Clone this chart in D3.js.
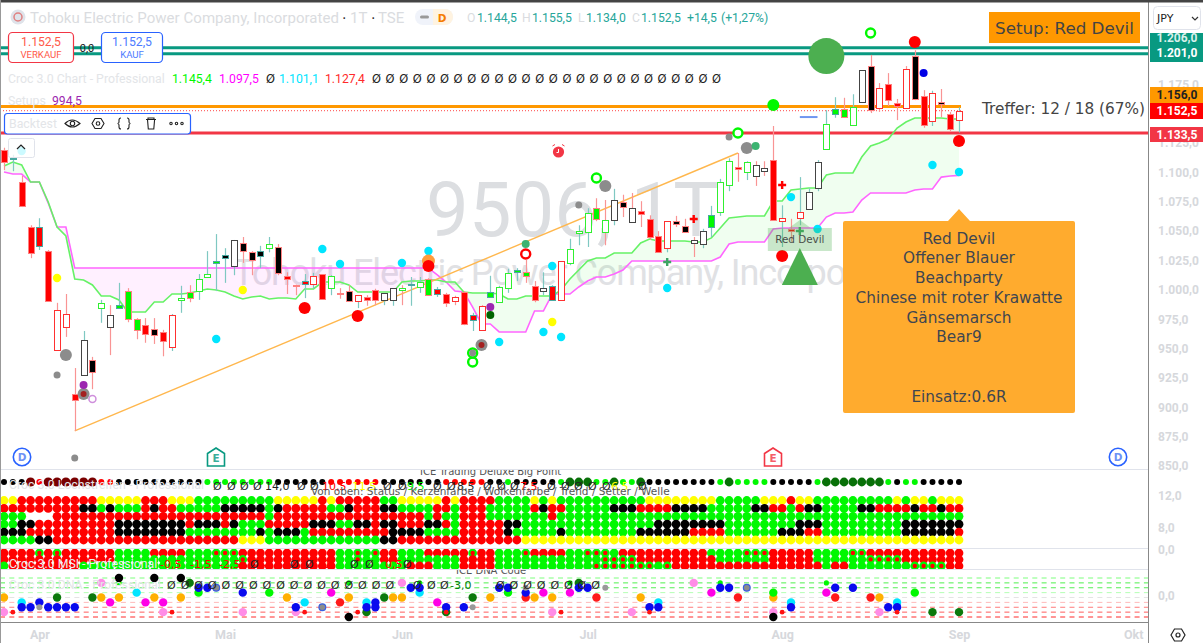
<!DOCTYPE html>
<html><head><meta charset="utf-8">
<script src="https://cdn.jsdelivr.net/npm/d3@7/dist/d3.min.js"></script>
<style>html,body{margin:0;padding:0;background:#fff;overflow:hidden}svg{display:block}</style>
</head><body><svg id="c" width="1203" height="643"></svg>
<script>
const opens=[1119,1111,1092,1053.5,1037.5,1033,983,979.5,911.5,927.5,940.5,984.5,978.5,984.5,999,975,970,966.5,964,951.5,991.5,998,999,1011,1023,1027,1020.5,1040,1032,1029,1035.5,1036.5,1012,1004,1005,1005,1013.5,1001.5,997.5,999,990.5,994,1000,991.5,991.5,1001.5,1004,1002.5,1009.5,996.5,996.5,994,998,974.5,986.5,994,989.5,1001.5,1015,1015,1003.5,999,991.5,991.5,1023.5,1048.5,1049.5,1069.5,1059.5,1059.5,1075,1069.5,1067,1060.5,1046,1035.5,1058.5,1054.5,1042.5,1039,1053.5,1066.5,1089.5,1104.5,1100.5,1106.5,1103.5,1110.5,1058.5,1052,1061,1069,1086.5,1120,1149.5,1154,1140.5,1160,1190.5,1172,1175,1159,1188,1199,1165,1143.5,1160,1149.5,1144.5];
const highs=[1121,1115,1097,1055,1061,1034,989,996.5,933.5,965,943,991.5,987,1006,1001.5,976,976,976,966,979.5,1003.5,1004,1013.5,1033,1047.5,1035.5,1042.5,1045,1033,1037.5,1045,1039,1015,1004.5,1013.5,1014.5,1013.5,1012.5,1001.5,1004,995.5,995.5,1001,997.5,1001.5,1004,1011,1011,1010,1002.5,997.5,995,999,980.5,987,1012,1003.5,1018,1018.5,1025.5,1007.5,1015,1004,1024.5,1043.5,1055,1069.5,1078,1076.5,1086,1081,1082.5,1075.5,1063.5,1050,1058.5,1063,1060.5,1045,1052,1071.5,1094.5,1112,1116.5,1109.5,1109.5,1109.5,1139.5,1072,1060.5,1096,1086.5,1110.5,1153,1164,1163.5,1166.5,1187,1200,1176,1184.5,1162.5,1190.5,1204,1170,1169.5,1171,1151.5,1155.5];
const lows=[1102,1101,1070.5,1027,1034,990.5,949,960,880,927.5,915.5,972,944.5,984.5,972.5,958,955,954,943.5,948,980.5,989.5,991.5,1011,999,1006,1012.5,1023,1012.5,1018.5,1032,1012.5,996.5,995.5,993,1001,992.5,995.5,992.5,990.5,984.5,986.5,987,987,986.5,987,986.5,997.5,995,994,985.5,987,970,965,965,994,989,997.5,1007.5,1006,989.5,995.5,991.5,991.5,1021,1038,1036.5,1058.5,1038,1055,1062,1058,1053.5,1042.5,1032,1032,1053.5,1049.5,1028,1035.5,1045,1063,1084,1092,1093.5,1088.5,1097,1059.5,1036.5,1041,1055,1069,1084,1120,1146.5,1146.5,1140.5,1160,1150.5,1151.5,1156.5,1144.5,1155,1161.5,1138,1139.5,1147,1134.5,1134];
const closes=[1109,1112,1072,1031.5,1053.5,990.5,949,968.5,906.5,957.5,930,989,968.5,987,975,966,962.5,961,956.5,978.5,993,993,1009.5,1013.5,1024.5,1029.5,1042.5,1033,1025.5,1033,1039,1014.5,1009.5,1003.5,1007.5,1012,992.5,1012,996.5,990.5,995.5,991.5,991.5,997.5,1001.5,1000,1005,1006.5,995.5,1001,989,990.5,971,978.5,966,998,1002.5,1014.5,1017,1012,991.5,1001.5,1003.5,1024.5,1035,1050,1065.5,1060.5,1049.5,1076.5,1070.5,1058,1064.5,1045,1032,1058.5,1056,1049.5,1040,1050,1063.5,1092,1109.5,1103,1109,1097,1101,1059.5,1061,1050,1066.5,1083.5,1109,1141,1154,1147,1155.5,1187,1153,1155,1161.5,1156.5,1155,1162.5,1140.5,1167.5,1158,1137,1152.5];
const bodies="R G R R R R wr wr R wk K wg wk G G G R K R wr wg G wg wg G K wk K K K wg K R R R wr R wg R K wr R R wk wk wg G wg G R R wr R R wr G wg wg G G R wk R wr wg wg wg G wg wk K wk R R R wr K K wk wk G wg wg R wg wk wk R wr R wr wk wk wg G G wg wk K wr R R wr K R wr K R wr".split(" ");
const cloudGreen=[1105.4,1108.8,1106.3,1091.8,1091.8,1074.8,1053.5,1045.9,1009.3,1008.4,1004.2,994.8,994.8,991.4,981.2,981.2,981.2,989.7,989.7,996.5,996.5,997.4,999,1000.8,999.9,998.2,994.8,992.3,993.9,994.8,992.3,993.1,993.1,992.3,1000.8,1000.8,1006.7,1006.7,1006.7,1004.2,998.2,998.2,998.2,998.2,998.2,1006.7,1007.6,1007.6,1008.4,1008.4,1006.7,1006.7,998.2,997.4,997.4,997.4,996.5,992.3,992.3,994.8,994.8,994.8,994.8,999.9,1009.3,1016.9,1024.6,1027.1,1027.1,1031.4,1031.4,1031.4,1039.9,1043.3,1041.6,1041.6,1041.6,1041.6,1040.8,1040.8,1044.2,1052.7,1061.2,1062,1062.9,1062.9,1062.9,1075.6,1075.6,1085,1085.9,1086.7,1086.7,1097.8,1099.5,1099.5,1099.5,1113.1,1122.5,1125,1128.4,1137.8,1142.9,1146.3,1146.3,1146.3,1146.3,1145.4,1145.4];
const cloudMagenta=[1100.3,1098.6,1098.6,1091.8,1091.8,1073.9,1053.5,1053.5,1018.6,1018.6,1018.6,1018.6,1018.6,1018.6,1018.6,1018.6,1018.6,1018.6,1018.6,1018.6,1018.6,1018.6,1018.6,1018.6,1018.6,1018.6,1018.6,1018.6,1018.6,1018.6,1018.6,1018.6,1018.6,1018.6,1018.6,1018.6,1018.6,1018.6,1018.6,1018.6,1018.6,1018.6,1018.6,1018.6,1018.6,1018.6,1018.6,1018.6,1018.6,1012.7,1006.7,999,998.2,985.4,971,971,964.2,964.2,964.2,964.2,982,982,996.5,996.5,996.5,1002.5,1007.6,1011,1011,1013.5,1016.9,1024.6,1024.6,1024.6,1024.6,1024.6,1024.6,1024.6,1024.6,1024.6,1024.6,1028,1039,1040.8,1040.8,1040.8,1040.8,1051.8,1052.7,1052.7,1052.7,1052.7,1052.7,1062,1065.4,1065.4,1066.3,1076.5,1082.5,1082.5,1082.5,1082.5,1082.5,1085,1085.9,1085.9,1096,1096.9,1097.5];

const cyanDots=[[2,1118.2],[24,958.2],[36,1034.8],[38,1022],[45,1022.9],[48,1033.1],[62,1020.3],[56,955.6],[61,964.2],[63,959.9],[75,1001.6],[89,1079],[92,1051.8],[105,1106.3],[108,1100.3]];
const yellowDots=[[6,1010.1],[27,999.9],[62,972.7]];
const orangeDots=[[48,1024.6]];
const redDots=[[34,984.6],[40,977.8],[48,1020.3],[88,1028.9],[103,1211],[108,1126.7]];
const limeDots=[[87,1157.3]];
const blueDots=[[104,1184.6]];
const bigGreenDots=[[93,1199]];
const limeRings=[[98,1218.6],[83,1133.5],[67,1095.2],[53,938.6],[53,946.3]];
const redRings=[[59,1030.5]];
const purpleRings=[[10,907.1]];
const grayBigDots=[[7,944.6],[68,1088.4],[84,1120.8],[9,911.4],[54,953.1]];
const graySmallDots=[[6,927.6],[65,1072.2],[82,1130.1],[8,856.9]];
const purpleDots=[[9,919],[55,985.4]];
const darkRedDots=[[9,911.4],[54,953.1]];
const darkGreenDots=[[55,978.6]];
const mediumGreenDots=[[59,1039],[85,1122.5]];
const greenPlus=[[75,1023.7],[90,1050.1]];
const redPlus=[[78,1060.3],[88,1089.3]];
const triangleMark=[90,1035.6,1004.2];
const blueSegment=[90,92,1147.1];
const trendStart=[8,880], trendEnd=[83,1116.5];
const levelsTeal=[1206,1201], levelOrange=1156, levelRed=1133.5, levelLast=1152.5;
const priceTicks=[850,875,900,925,950,975,1000,1025,1050,1075,1100,1125,1175];
const monthLabels=["Apr","Mai","Jun","Jul","Aug","Sep","Okt"], monthCols=[4,25,45,66,88,108,127.7];

const rows=[
"YYRRRRRRRR"+"RYYYYYRRRY"+"YYGGGGGGGG"+"GYYYYYRYRR"+"RRRGG"+"YYYYYRYRRR"+"RGGGGYGYGG"+"GGGGGGGGYY"+"YYYYYYGGGG"+"GYYYR"+"YYGGGGGGGGGYGYYGYYY",
"RRRRRRRRRK"+"KGKGGGRKRR"+"GGGGGKKKKK"+"GKRRRRRGGK"+"RRRKK"+"GGGGRRGRRR"+"GGGGGRKRRG"+"GGGGKKKRRR"+"RKKKKGGGGG"+"KKRRG"+"RKKGGGGKKRRRRKRRKRR",
"GGG___RRRR"+"RRRRRRRRRR"+"RRRRRRRRRR"+"GRRRRRRRRR"+"RRRRR"+"RRRGRGGRRR"+"GGGGGGGRGG"+"GGGGGGGGGG"+"GGGGGGGGGG"+"GGGGG"+"GGGGGGGGGGGGGGGGGGG",
"GGKKRRRRRR"+"RRRKKKKKKK"+"KRKKKRKGGG"+"RRRRRKKKGG"+"KKRKK"+"RRRKKRGRRR"+"RRKKGGGGGG"+"GGGGGGGGGK"+"KKKKKKKGGG"+"GGGGG"+"KKKGGGGGGGGGKKKKKKK",
"KKKRRRRRRR"+"RRRKKKKKKK"+"KGGGGGGGGK"+"GKKKGRRRRR"+"RRRRK"+"KKKGGGGRRR"+"RRKGGGGGKG"+"GGGGGGGKKK"+"KKKRRRRGGG"+"GGGKK"+"KRRGGGGGGGGGKKKKKKR",
"GGGGKKRRRR"+"RRRRRRRRRR"+"RRRRRRRYYY"+"GGGGGGGGGG"+"GGGKK"+"RRRRRRRRRR"+"RRRRYYYYYY"+"YYYYYYYYYY"+"YYYYYYYYYY"+"YYYYY"+"YYYYYYYYYYYYYYYYYYY"
];
const bigPoint="kkkdrdddddd"+"rr"+"kkkkkkkkkk"+"gggggggg"+"kkkkkk"+"rrrrrr"+"kk"+"kkkkk"+"rrrrr"+"kk"+"g"+"kkkkk"+"g"+"DDD"+"gg"+"D"+"gg"+"D"+"kkkkkkkk"+"g"+"D"+"gggg"+"kkk"+"kkgDDDDDDDgkggkkkkk";
const msiRows=[
"RRRRgRgRRRRRRGGGGRRRRGGGgggRRRRRRRRRRRGGgGgRR"+"GGGRRRRRgRRGGGgRRRRGGgggGRRRRRRRRRRGGGGgggRRR"+"RRGGGGggRRRRRRRRRRR",
"RRRRRRRRRRRRRGGGGGGGGGGGGGGgRRRRRRRRRRGGgGGRR"+"GGGGGGGRRRRGGGGGGGGGGGGggggRRRRRRRRRGGGGGGRRR"+"RRGGGGGGggggRRRRRRR",
"GRRRRRRRRGGGGGGGGGGGGGGGGGGRRRRRRRRRRRGGGGGGG"+"GRRRGGGRRRRGGGGGGGGGGGgggggggGgRRRRRRRRRRRRRR"+"RRRGRRGGGGGGGggggRR"
];
const dnaBlue=[[2,-2],[3,-2],[4,-1],[5,-2],[6,-2],[7,-2],[8,-2],[22,2],[23,2],[27,1],[33,-2],[41,-2],[42,-1],[42,-2],[46,2],[47,2],[50,-2],[52,-2],[56,2],[57,2],[59,1],[65,2],[66,2],[73,-2],[74,-2],[81,2],[82,2],[89,-2],[94,2],[96,2],[100,-2],[101,-2]];
const dnaBlueGray=[[24,2],[36,-2],[84,2]];
const dnaOrange=[[0,0],[11,0],[13,0],[17,0],[20,0],[32,0],[39,0],[44,0],[45,0],[55,0],[60,0],[62,0],[72,0],[87,0],[99,0]];
const dnaMagenta=[[12,-1],[16,-1],[18,-1],[37,1],[49,-1],[61,1],[64,1],[80,1],[93,1]];
const dnaPink=[[0,-3],[11,3],[18,-3],[27,-3],[33,-3],[45,3],[62,-3],[71,-3],[78,3],[87,-3],[99,-3]];
const dnaCyan=[[2,-1],[15,1],[34,-1],[41,-1],[47,1],[74,-1],[89,-1],[101,-1]];
const dnaLime=[[22,1],[30,1],[57,1],[87,1],[103,1]];
const dnaLimeSmall=[[13,3],[39,3],[47,3],[64,3],[81,3],[93,3]];
const dnaDarkGreen=[[6,0],[10,0],[21,3],[41,-3],[43,0],[50,-3],[53,0],[65,3],[105,-3],[108,-3]];
const dnaBlack=[[13,4],[17,4],[20,4],[39,-4],[87,-4]];
const dnaRed=[[38,-1],[59,0],[67,0],[83,0],[94,0],[98,0]];
const dnaRedSmall=[[1,-3],[19,-3],[34,-3],[40,-3],[50,-3],[63,-3],[73,-3],[88,-3],[101,-3]];
const dnaGraySmall=[[4,-2],[53,-2],[59,2],[68,2]];
const dnaLevels=[4,3,2,1,0,-1,-2,-3,-4];
const dnaLevelColors=["#7dff7d","#4df04d","#55ee55","#b4ffb4","#e4e4e4","#ffb9b9","#ff7a7a","#ff5c5c","#ff2a2a"];

const F="'DejaVu Sans',sans-serif", RB="Roboto,sans-serif", LIME="#00f800", YEL="#ffff00";
const svg=d3.select("#c");
const x=d3.scaleLinear().domain([0,108]).range([4,959]);
const y=d3.scaleLinear().domain([850,1206]).range([466.15,47.85]);
const loc=d3.formatLocale({decimal:",",thousands:".",grouping:[3],currency:["",""]});
const fmt=loc.format(",.1f");
const ruleX=1148;
function txt(g,t,px,py,o){const e=g.append("text").attr("x",px).attr("y",py).text(t).attr("font-family",(o&&o.ff)||F).attr("font-size",(o&&o.fs)||12).attr("fill",(o&&o.fill)||"#333");
 if(o&&o.a)e.attr("text-anchor",o.a); if(o&&o.w)e.attr("font-weight",o.w); return e;}

const defs=svg.append("defs");
defs.append("clipPath").attr("id","clipA").append("rect").attr("x",0).attr("y",470).attr("width",ruleX).attr("height",100);
defs.append("clipPath").attr("id","clipD").append("rect").attr("x",0).attr("y",570).attr("width",ruleX).attr("height",52);

// watermark
const wm=svg.append("g");
txt(wm,"9506, 1T",426,236,{ff:RB,fs:76,fill:"#dcdee1"});
txt(wm,"Tohoku Electric Power Company, Incorporated",233,285,{ff:RB,fs:36,fill:"#e0e1e4"}).attr("textLength",690);

// cloud
const idx=d3.range(opens.length);
const pane=svg.append("g");
pane.append("path").attr("fill","#00e600").attr("fill-opacity",.06).attr("d",d3.area().x(i=>x(i)).y0(i=>y(cloudMagenta[i])).y1(i=>y(Math.max(cloudGreen[i],cloudMagenta[i])))(idx));
pane.append("path").attr("fill","#ff00ff").attr("fill-opacity",.06).attr("d",d3.area().x(i=>x(i)).y0(i=>y(cloudMagenta[i])).y1(i=>y(Math.min(cloudGreen[i],cloudMagenta[i])))(idx));

// horizontal levels
levelsTeal.forEach(v=>pane.append("line").attr("x1",0).attr("x2",ruleX).attr("y1",y(v)).attr("y2",y(v)).attr("stroke","#089981").attr("stroke-width",3));
pane.append("line").attr("x1",0).attr("x2",x(108)+2).attr("y1",y(levelOrange)).attr("y2",y(levelOrange)).attr("stroke","#ff9800").attr("stroke-width",3);
pane.append("line").attr("x1",0).attr("x2",x(108)+2).attr("y1",y(levelLast)).attr("y2",y(levelLast)).attr("stroke","#f44").attr("stroke-dasharray","1,2");
pane.append("line").attr("x1",0).attr("x2",ruleX).attr("y1",y(levelRed)).attr("y2",y(levelRed)).attr("stroke","#f23645").attr("stroke-width",3);

const ln=(arr)=>d3.line().x((d,i)=>x(i)).y(d=>y(d))(arr);
pane.append("path").attr("d",ln(cloudMagenta)).attr("fill","none").attr("stroke","#ff66ff").attr("stroke-width",1.6);
pane.append("path").attr("d",ln(cloudGreen)).attr("fill","none").attr("stroke","#66f266").attr("stroke-width",1.6);
pane.append("line").attr("x1",x(trendStart[0])).attr("y1",y(trendStart[1])).attr("x2",x(trendEnd[0])).attr("y2",y(trendEnd[1])).attr("stroke","#ffb74d").attr("stroke-width",1.4);

// candles
const cg=svg.append("g");
const up=i=>closes[i]>=opens[i];
const px=i=>Math.round(x(i));
cg.selectAll(".w").data(idx).join("line").attr("x1",i=>px(i)+.5).attr("x2",i=>px(i)+.5).attr("y1",i=>y(highs[i])).attr("y2",i=>y(lows[i]))
 .attr("stroke",i=>up(i)?"#7fc8c2":"#f99494").attr("stroke-width",1.2);
const fills={R:"#ff0000",G:LIME,K:"#000",wr:"#fff",wg:"#fff",wk:"#fff"};
const strokes={wr:"#ff3030",wg:"#30f030",wk:"#444"};
cg.selectAll(".b").data(idx).join("rect").attr("x",i=>px(i)-2.5).attr("width",6)
 .attr("y",i=>Math.round(y(Math.max(opens[i],closes[i])))+.5)
 .attr("height",i=>Math.max(1,Math.round(y(Math.min(opens[i],closes[i]))-y(Math.max(opens[i],closes[i])))))
 .attr("fill",i=>fills[bodies[i]])
 .attr("stroke",i=>strokes[bodies[i]]||(up(i)?"#4aa9a2":"#ff8080")).attr("stroke-width",1);

// markers
const mk=svg.append("g");
function dots(a,r,fill,op){mk.selectAll(null).data(a).join("circle").attr("cx",d=>x(d[0])).attr("cy",d=>y(d[1])).attr("r",r).attr("fill",fill).attr("opacity",op||1);}
function rings(a,r,col,sw){mk.selectAll(null).data(a).join("circle").attr("cx",d=>x(d[0])).attr("cy",d=>y(d[1])).attr("r",r).attr("fill","#fff").attr("stroke",col).attr("stroke-width",sw);}
dots(grayBigDots,6,"#8c8c8c");
dots(graySmallDots,3.5,"#8c8c8c");
dots(cyanDots,4.2,"#00e5ff");
dots(yellowDots,4.2,YEL);
dots(orangeDots,6.5,"#ff9c3c");
dots(redDots,6,"#ff0000");
dots(limeDots,6,LIME);
dots(blueDots,4,"#0000e6");
dots(bigGreenDots,18,"#4caf50");
dots(purpleDots,4,"#9c27b0");
dots(darkRedDots,3,"#a32020");
dots(darkGreenDots,4,"#006400");
dots(mediumGreenDots,4,"#3cb371");
rings(limeRings,4.5,LIME,2.4);
rings(redRings,4.5,"#ff0000",2.4);
rings(purpleRings,3.5,"#cf8fdc",1.5);
mk.selectAll(null).data(limeRings.slice(4)).join("circle").attr("cx",d=>x(d[0])).attr("cy",d=>y(d[1])).attr("r",3.4).attr("fill","#8c8c8c");
const plus=(a,c)=>a.forEach(d=>{const X=x(d[0]),Y=y(d[1]);
 mk.append("path").attr("d",`M${X-4},${Y}H${X+4}M${X},${Y-4}V${Y+4}`).attr("stroke",c).attr("stroke-width",2.4).attr("fill","none");});
plus(greenPlus,"#3da463"); plus(redPlus,"#ff0000");
mk.append("line").attr("x1",x(blueSegment[0])).attr("x2",x(blueSegment[1])).attr("y1",y(blueSegment[2])).attr("y2",y(blueSegment[2])).attr("stroke","#6f96f0").attr("stroke-width",2);

// red devil label + triangle
const lx=x(triangleMark[0]);
mk.append("path").attr("d",`M${lx},${220}L${lx+11},${228}H${lx+32}V${251}H${lx-32}V${228}H${lx-11}Z`).attr("fill","#4caf50").attr("opacity",.3);
txt(mk,"Red Devil",lx,243,{a:"middle",fs:10.4,fill:"#333"}).attr("opacity",.85);
mk.append("path").attr("d",`M${lx},${y(triangleMark[1])}L${lx+18},${y(triangleMark[2])}H${lx-18}Z`).attr("fill","#4caf50");

// alarm
const al=svg.append("g").attr("transform","translate(558.5,152)");
al.append("circle").attr("r",5.6).attr("fill","#f23645");
al.append("path").attr("d","M-6,-6L-3.5,-7.5M6,-6L3.5,-7.5").attr("stroke","#f23645").attr("fill","none").attr("stroke-width",1);
al.append("path").attr("d","M0,-3V0.5H-2").attr("stroke","#fff").attr("fill","none").attr("stroke-width",1);

// big orange panel
const pcx=x(108);
svg.append("path").attr("d",`M843,223Q843,221 845,221H${pcx-11}L${pcx},209L${pcx+11},221H1073Q1075,221 1075,223V411Q1075,413 1073,413H845Q843,413 843,411Z`).attr("fill","#ffab2e");
const panelLines=["Red Devil","Offener Blauer","Beachparty","Chinese mit roter Krawatte","Gänsemarsch","Bear9","","","Einsatz:0.6R"];
panelLines.forEach((t,i)=>txt(svg,t,pcx,243.5+i*19.75,{a:"middle",fs:15.3,fill:"#3f4650"}));

// setup box, Treffer
svg.append("rect").attr("x",989).attr("y",12).attr("width",151).attr("height",31).attr("fill","#ff9800");
txt(svg,"Setup: Red Devil",1064.5,33.5,{a:"middle",fs:16.7,fill:"#444"});
txt(svg,"Treffer: 12 / 18 (67%)",982,113.5,{fs:15.3,fill:"#444"});

// lower panes: big point row
const lo=svg.append("g");
const bpStyle={k:["#000",3],d:["#7a0000",4.6],r:["#f00",3],g:[LIME,3],D:["#087008",4.4]};
lo.selectAll(null).data(bigPoint.split("")).join("circle").attr("cx",(d,i)=>x(i)).attr("cy",482).attr("r",d=>bpStyle[d][1]).attr("fill",d=>bpStyle[d][0]);

const rowY=d3.scalePoint().domain(d3.range(6)).range([500.5,540]);
const cellCol={Y:YEL,R:"#ff0000",G:LIME,K:"#000"};
rows.forEach((s,r)=>lo.selectAll(null).data(s.split("").map((c,i)=>[c,i]).filter(d=>d[0]!="_")).join("circle")
 .attr("cx",d=>x(d[1])).attr("cy",rowY(r)).attr("r",4.4).attr("fill",d=>cellCol[d[0]]));
const msiY=d3.scalePoint().domain([0,1,2]).range([553,566]);
msiRows.forEach((s,r)=>{const g=lo.append("g");
 g.selectAll(null).data(s.split("").map((c,i)=>[c,i])).join("circle").attr("cx",d=>x(d[1])).attr("cy",msiY(r)).attr("r",4.4).attr("fill",d=>d[0]=="R"?"#ff0000":LIME);
 g.selectAll(null).data(s.split("").map((c,i)=>[c,i]).filter(d=>d[0]=="g")).join("circle").attr("cx",d=>x(d[1])).attr("cy",msiY(r)).attr("r",2.2).attr("fill","#ff0000");
});
lo.append("rect").attr("x",0).attr("y",570).attr("width",ruleX).attr("height",52).attr("fill","#fff");

const lv=d3.scaleLinear().domain([-4,4]).range([617,578]);
dnaLevels.forEach((l,i)=>lo.append("line").attr("x1",0).attr("x2",ruleX).attr("y1",lv(l)).attr("y2",lv(l)).attr("stroke",dnaLevelColors[i]).attr("stroke-dasharray","5,4.3"));
function dn(a,r,c,st){lo.selectAll(null).data(a).join("circle").attr("cx",d=>x(d[0])).attr("cy",d=>lv(d[1])).attr("r",r).attr("fill",c).attr("stroke",st||"none").attr("stroke-width",st?1.2:0);}
dn(dnaOrange,4.2,"#ffb000");dn(dnaMagenta,4.2,"#ff00e6");dn(dnaPink,4.2,"#ff8ce6");dn(dnaCyan,4.2,"#00e5ff");dn(dnaLime,4.2,LIME);
dn(dnaLimeSmall,2.6,LIME);dn(dnaDarkGreen,4.2,"#0c7a0c");dn(dnaBlack,4.2,"#000");dn(dnaRed,4.2,"#ff1a1a");dn(dnaBlue,4.2,"#0a0aee");dn(dnaBlueGray,3.4,"#8c8c8c","#3b5fe0");dn(dnaRedSmall,2.4,"#ff1010");dn(dnaGraySmall,3,"#999");

// pane separators
[469.5,548.5,569.5].forEach(v=>svg.append("line").attr("x1",0).attr("x2",ruleX).attr("y1",v).attr("y2",v).attr("stroke","#e0e3eb"));

// pane texts
const L="#e3e5e8";
const t=svg.append("g");
txt(t,"ICE Trading Deluxe Big Point",420,475,{fs:10,fill:"#555"}).attr("clip-path","url(#clipA)");
txt(t,"Croc 3.0 Lochstreifen - Professional",9,489,{ff:RB,fs:12.3,fill:L});
txt(t,"14,0",265,490,{fs:11,fill:"#222"});
txt(t,"10,5",322,490,{fs:11,fill:"#f00"});
txt(t,"11,5",352,490,{fs:11,fill:YEL});
txt(t,"9,5",407,490,{fs:11,fill:LIME});
txt(t,"8,5",457,490,{fs:11,fill:"#222"});
txt(t,"7,5",520,490,{fs:11,fill:"#f00"});
txt(t,"6,5",611,490,{fs:11,fill:YEL});
[213,227,240,253,297,310,383,398,433,447,483,497,510,547,561,574,588,602,638].forEach(v=>txt(t,"Ø",v,490,{fs:11,fill:"#222"}));
txt(t,"Von oben: Status / Kerzenfarbe / Wolkenfarbe / Trend / Setter / Welle",311,495,{fs:10.5,fill:"#555"});
txt(t,"Croc 3.0 MSI - Professional",9,568,{ff:RB,fs:12.3,fill:"#eceef0"});
[["-0,5",160,"#f00"],["-1,5",190,"#f00"],["-2,5",219,"#f00"],["Ø",250,"#222"],["-0,5",262,"#f00"],["Ø",290,"#222"],["Ø",305,"#222"],["-1,",320,"#f00"],["Ø",350,"#222"],["Ø",365,"#222"],["0,5",385,"#f00"],["Ø",403,"#222"]].forEach(d=>txt(t,d[0],d[1],568,{fs:11,fill:d[2]}));
txt(t,"ICE DNA Code",456,574,{fs:10,fill:"#555"}).attr("clip-path","url(#clipD)");
txt(t,"Croc 3.0 DNA - Professional",9,589,{ff:RB,fs:12.3,fill:L});
d3.range(17).forEach(k=>txt(t,"Ø",167+k*13.65,589,{fs:11,fill:"#222"}));
[413,427,440].forEach(v=>txt(t,"Ø",v,589,{fs:11,fill:"#222"}));
txt(t,"-3,0",450,589,{fs:11,fill:"#0c7a0c"});
d3.range(8).forEach(k=>txt(t,"Ø",496+k*13.6,589,{fs:11,fill:"#222"}));

// event icons
const ev=svg.append("g");
[[22],[1118]].forEach(d=>{ev.append("circle").attr("cx",d[0]).attr("cy",457).attr("r",8.7).attr("fill","#fff").attr("stroke","#2962ff").attr("stroke-width",1.6);
 txt(ev,"D",d[0],461,{a:"middle",fs:10.5,fill:"#6e92f5",w:"bold"});});
[[216,"#089981"],[773,"#f23645"]].forEach(d=>{ev.append("path").attr("d",`M${d[0]},448L${d[0]+8.5},453.5V466H${d[0]-8.5}V453.5Z`).attr("fill","#fff").attr("stroke",d[1]).attr("stroke-width",1.6);
 txt(ev,"E",d[0],461.5,{a:"middle",fs:10.5,fill:d[1],w:"bold"}).attr("opacity",.8);});

// frame
svg.append("rect").attr("x",ruleX+1).attr("y",0).attr("width",54).attr("height",643).attr("fill","#fff");
svg.append("line").attr("x1",ruleX+.5).attr("x2",ruleX+.5).attr("y1",2).attr("y2",643).attr("stroke","#888");
svg.append("line").attr("x1",0).attr("x2",ruleX).attr("y1",622.5).attr("y2",622.5).attr("stroke","#888");
svg.append("rect").attr("x",0).attr("y",0).attr("width",1203).attr("height",2.5).attr("fill","#444");
svg.append("rect").attr("x",0).attr("y",0).attr("width",1).attr("height",643).attr("fill","#999");

// price axis
const axisCol="#d6d8dc";
const ax=svg.append("g").attr("transform",`translate(${ruleX+4},0)`).call(d3.axisRight(y).tickValues(priceTicks).tickSize(0).tickFormat(fmt));
ax.select(".domain").remove();
ax.selectAll("text").attr("x",6).attr("font-family",RB).attr("font-size",12).attr("fill",axisCol).attr("font-weight","bold");
[["12,0",496],["8,0",528],["0,0",550],["0,0",596]].forEach(d=>txt(svg,d[0],1158,d[1]+4,{ff:RB,fs:12,fill:axisCol,w:"bold"}));

// month axis
const xa=svg.append("g").attr("transform","translate(0,622)").call(d3.axisBottom(x).tickValues(monthCols).tickSize(0).tickFormat((d,i)=>monthLabels[i]));
xa.select(".domain").remove();
xa.selectAll("text").attr("y",8).attr("dy","0.71em").attr("font-family",RB).attr("font-size",12.5).attr("font-weight","bold").attr("fill",axisCol);

// price tags
[[33,29,"#089981","#fff"],[87,16,"#ff9800","#222"],[103,16,"#ff0000","#fff"],[127,15,"#f23645","#fff"]].forEach(d=>svg.append("rect").attr("x",ruleX+2).attr("y",d[0]).attr("width",53).attr("height",d[1]).attr("fill",d[2]));
[["1.206,0",38,"#d8f0ea"],["1.201,0",53,"#fff"],["1.156,0",95,"#222"],["1.152,5",111,"#fff"],["1.133,5",134.5,"#fff"]].forEach(d=>txt(svg,d[0],1177,d[1]+4,{ff:RB,a:"middle",fs:12,fill:d[2],w:"bold"}));

// JPY
svg.append("rect").attr("x",1153.5).attr("y",6.5).attr("width",47).attr("height",23).attr("rx",4).attr("fill","#fff").attr("stroke","#e0e3eb");
txt(svg,"JPY",1157,22,{fs:11,fill:"#222"});
svg.append("path").attr("d","M1192,17l3,3l3,-3").attr("fill","none").attr("stroke","#333").attr("stroke-width",1.2);
svg.append("path").attr("d","M1171,635m-7,0l3.5,-6h7l3.5,6l-3.5,6h-7z").attr("fill","none").attr("stroke","#222").attr("stroke-width",1.2).attr("transform","translate(7,0)");
svg.append("circle").attr("cx",1178).attr("cy",635).attr("r",2).attr("fill","none").attr("stroke","#222").attr("stroke-width",1.2);

// header
const h=svg.append("g");
h.append("circle").attr("cx",18).attr("cy",17).attr("r",7.5).attr("fill","#dfe3ea");
h.append("circle").attr("cx",18).attr("cy",17).attr("r",4).attr("fill","none").attr("stroke","#e08080").attr("stroke-width",1.5);
const TF={ff:RB,fs:15,fill:"#dadce0"};
txt(h,"Tohoku Electric Power Company, Incorporated",30,23,TF).attr("textLength",309);
txt(h,"·",342,23,{fs:14,fill:"#333"});
txt(h,"1T",350,23,TF);
txt(h,"·",371,23,{fs:14,fill:"#333"});
txt(h,"TSE",378,23,TF);
h.append("rect").attr("x",415).attr("y",9).attr("width",38).attr("height",16).attr("rx",8).attr("fill","#f0f3fa");
h.append("path").attr("d","M433,9h12a8,8 0 0 1 0,16h-12z").attr("fill","#fff3e0");
h.append("rect").attr("x",420).attr("y",15.5).attr("width",9).attr("height",3).attr("rx",1.5).attr("fill","#999");
txt(h,"D",442,22,{a:"middle",fs:10.5,fill:"#f57c00",w:"bold"});
const O="#26a69a";
[["O",467,"#dadce0"],["1.144,5",477,O],["H",522,"#dadce0"],["1.155,5",532,O],["L",578,"#dadce0"],["1.134,0",586,O],["C",632,"#dadce0"],["1.152,5",641,O],["+14,5",687,O],["(+1,27%)",721,O]].forEach(d=>txt(h,d[0],d[1],22,{ff:RB,fs:12.2,fill:d[2]}));

// order buttons
[[8.5,65,"#f23645","VERKAUF","#ff5a4a"],[101.5,61,"#2962ff","KAUF","#4d7cff"]].forEach(d=>{
 h.append("rect").attr("x",d[0]).attr("y",32.5).attr("width",d[1]).attr("height",30).attr("rx",4).attr("fill","#fff").attr("stroke",d[2]).attr("stroke-width",1.2);
 txt(h,"1.152,5",d[0]+d[1]/2,46,{ff:RB,a:"middle",fs:12.2,fill:d[4]});
 txt(h,d[3],d[0]+d[1]/2,58,{ff:RB,a:"middle",fs:9.6,fill:d[4]});});
txt(h,"0,0",87,52,{ff:RB,a:"middle",fs:11,fill:"#222"});

// indicator legend
txt(h,"Croc 3.0 Chart - Professional",8,83,{ff:RB,fs:12.3,fill:L});
[["1.145,4",172,LIME],["1.097,5",219,"#ff00ff"],["1.101,1",279,"#00e5ff"],["1.127,4",325,"#ff2a2a"]].forEach(d=>txt(h,d[0],d[1],83,{ff:RB,fs:12.2,fill:d[2]}));
txt(h,"Ø",266,83,{fs:11.4,fill:"#222"});
d3.range(26).forEach(k=>txt(h,"Ø",372+k*13.6,83,{fs:11.4,fill:"#222"}));
txt(h,"Setups",8,105,{ff:RB,fs:12.3,fill:L});
txt(h,"994,5",52,105,{ff:RB,fs:12.2,fill:"#9c27b0"});

// backtest
h.append("rect").attr("x",4.5).attr("y",113.5).attr("width",186).attr("height",20.5).attr("rx",3).attr("fill","#fff").attr("stroke","#2962ff").attr("stroke-width",1.2);
txt(h,"Backtest",9,128,{ff:RB,fs:12.3,fill:L});
const ic=h.append("g").attr("fill","none").attr("stroke","#222").attr("stroke-width",1.1);
ic.append("path").attr("d","M65,123.5q7,-7 15,0q-8,7 -15,0z");ic.append("circle").attr("cx",72.5).attr("cy",123.5).attr("r",2.2);
ic.append("path").attr("d","M92,123.5l3,-5h6l3,5l-3,5h-6z");ic.append("circle").attr("cx",98).attr("cy",123.5).attr("r",1.8);
ic.append("path").attr("d","M121,118q-2,0 -2,2v2q0,1.5 -1.5,1.5q1.5,0 1.5,1.5v2q0,2 2,2M127,118q2,0 2,2v2q0,1.5 1.5,1.5q-1.5,0 -1.5,1.5v2q0,2 -2,2");
ic.append("path").attr("d","M146,119.5h10M148,119.5v-1.5h6v1.5M147.5,119.5l.8,9.5h5.5l.8,-9.5");
[171,176.5,182].forEach(v=>ic.append("circle").attr("cx",v).attr("cy",123.5).attr("r",1.2));
h.append("rect").attr("x",8.5).attr("y",138.5).attr("width",26).attr("height",19).attr("rx",2).attr("fill","#fff").attr("fill-opacity",.8).attr("stroke","#e0e3eb");
h.append("path").attr("d","M17,149l4,-4l4,4").attr("fill","none").attr("stroke","#222").attr("stroke-width",1.2);
</script></body></html>
